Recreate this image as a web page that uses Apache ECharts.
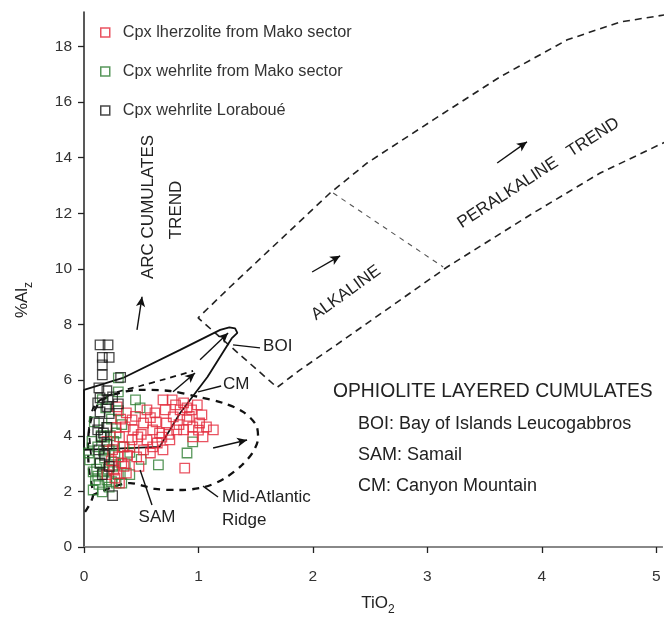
<!DOCTYPE html>
<html><head><meta charset="utf-8">
<script src="https://cdn.jsdelivr.net/npm/echarts@6/dist/echarts.min.js"></script>
<style>html,body{margin:0;padding:0;background:#fff}#c{width:665px;height:617px}</style>
</head><body><div id="c"></div>
<script>
// ---------- data ----------
const xTicks = [0, 1, 2, 3, 4, 5];
const yTicks = [0, 2, 4, 6, 8, 10, 12, 14, 16, 18];
const seriesNames = ['Cpx lherzolite from Mako sector', 'Cpx wehrlite from Mako sector', 'Cpx wehrlite Loraboué'];

const lherzoliteMako = [
  [0.88,2.84],[1.13,4.21],[1.04,3.96],[1.03,4.75],[0.99,5.11],[0.77,5.29],[0.87,5.18],[0.62,4.82],[0.64,3.74],[0.58,3.38],
  [0.43,4.21],[0.42,3.85],[0.52,4.46],[0.72,4.46],[0.81,4.21],[0.90,4.57],[0.95,4.32],[1.07,4.32],[0.71,4.93],[0.55,4.93],
  [0.37,4.82],[0.36,4.32],[0.34,3.60],[0.33,3.02],[0.37,2.66],[0.31,2.30],[0.47,3.96],[0.66,4.10],[0.78,4.68],[0.84,4.93],
  [0.94,4.93],[1.01,4.46],[0.52,3.49],[0.46,3.24],[0.60,4.21],[0.69,3.49],[0.75,3.85],[0.55,3.85],[0.87,4.21],[0.95,3.96],
  [0.42,4.57],[0.29,5.04],[0.31,3.96],[0.30,3.24],[0.26,2.77],[0.27,2.48],[0.69,5.29],[0.80,5.11],[0.25,3.50],[0.28,4.30],
  [0.22,2.90],[0.38,3.30],[0.45,4.70],[0.63,4.50],[0.50,4.05],[0.74,4.05],[0.92,4.70],[1.00,4.20],[0.58,4.65],[0.40,3.60],
  [0.35,2.90],[0.24,3.10],[0.32,4.60],[0.68,3.95],[0.83,4.40],[0.90,5.00],[0.60,3.60],[0.48,2.90],[0.20,3.80],[0.20,2.60]
];
const wehrliteMako = [
  [0.05,3.13],[0.04,3.38],[0.08,2.05],[0.16,1.98],[0.10,2.41],[0.11,2.80],[0.17,2.70],[0.20,2.41],[0.28,2.30],[0.30,2.60],
  [0.25,2.90],[0.12,3.60],[0.18,3.20],[0.22,3.50],[0.26,3.80],[0.15,4.00],[0.20,4.30],[0.28,4.10],[0.24,4.60],[0.30,4.90],
  [0.19,5.00],[0.30,5.58],[0.45,5.29],[0.30,6.08],[0.49,5.00],[0.65,2.95],[0.90,3.38],[0.95,3.78],[0.36,3.00],[0.40,2.60],
  [0.33,2.30],[0.07,3.80],[0.08,2.70],[0.13,2.25],[0.22,2.15],[0.27,3.30],[0.35,3.60],[0.23,4.00],[0.09,4.50],[0.16,5.30],
  [0.33,4.40],[0.40,3.40],[0.50,3.15],[0.14,3.00],[0.21,2.80],[0.18,3.95],[0.26,3.05],[0.12,2.55],[0.24,2.35],[0.17,3.45]
];
const wehrliteLoraboue = [
  [0.14,7.27],[0.21,7.27],[0.16,6.82],[0.22,6.82],[0.16,6.55],[0.16,6.19],[0.32,6.10],[0.13,5.72],[0.20,5.62],[0.14,5.36],
  [0.21,5.30],[0.12,5.18],[0.20,5.05],[0.14,4.86],[0.22,4.80],[0.13,4.46],[0.20,4.30],[0.12,4.21],[0.15,3.96],[0.20,3.70],
  [0.13,3.49],[0.18,3.30],[0.14,3.02],[0.22,2.90],[0.16,2.60],[0.25,1.85],[0.17,4.10],[0.25,5.40],[0.30,5.15]
];

// field boundaries (data coordinates)
const alkalineField = [
  [5.08,19.14],[4.685,18.88],[4.222,18.24],[3.636,16.91],[3.051,15.36],[2.474,13.81],[2.150,12.73],[1.713,11.04],[1.276,9.35],[0.997,8.24],
  [1.687,5.74],[1.888,6.37],[2.177,7.19],[2.762,8.88],[3.173,10.07],[3.925,12.01],[4.51,13.45],[5.08,14.57]
];
const alkalineDivider = [[2.177,12.73],[3.138,10.07]];
const boiField = [
  [0.0,3.49],[0.0,5.65],[0.34,6.08],[0.84,7.09],[1.19,7.81],[1.27,7.90],[1.32,7.86],[1.34,7.70],[1.29,7.50],[1.08,6.12],
  [0.84,4.82],[0.66,3.60],[0.0,3.49]
];
const marField = [
  [0.009,1.26],[0.079,1.87],[0.044,2.77],[0.035,3.67],[0.061,4.57],[0.14,5.22],[0.271,5.50],[0.49,5.65],[0.752,5.61],[0.997,5.40],
  [1.215,5.18],[1.39,4.86],[1.503,4.39],[1.521,3.92],[1.477,3.42],[1.381,2.95],[1.233,2.48],[1.058,2.16],[0.839,2.05],[0.621,2.09],
  [0.402,2.30],[0.227,2.12],[0.079,1.87]
];
const cmField = [[0.061,3.31],[0.044,4.28],[0.096,5.11],[0.245,5.50],[0.49,5.79],[0.708,6.04],[0.953,6.33]];
const trendArrows = [
  [[0.463,7.81],[0.507,9.00]],
  [[1.993,9.89],[2.238,10.47]],
  [[3.61,13.81],[3.87,14.57]],
  [[1.128,3.56],[1.425,3.85]],
  [[1.014,6.73],[1.259,7.70]],
  [[0.778,5.58],[0.970,6.26]]
];
const leaderLines = [
  [[1.302,7.27],[1.538,7.16]],
  [[0.997,5.58],[1.198,5.79]],
  [[0.49,2.77],[0.594,1.51]],
  [[1.04,2.19],[1.171,1.80]]
];
const fieldLabelTexts = ['BOI','CM','SAM','Mid-Atlantic','Ridge','ARC CUMULATES','TREND','ALKALINE','PERALKALINE   TREND'];
const keyTitle = 'OPHIOLITE LAYERED CUMULATES';
const keyLines = ['BOI: Bay of Islands Leucogabbros','SAM: Samail','CM: Canyon Mountain'];

// ---------- layout / style ----------
const FF = '"Liberation Sans", Arial, Helvetica, sans-serif';
const colors = ['#e3283a', '#2e7d32', '#1a1a1a'];
const labelLayout = [ // anchor (data coords), rotation deg, align
  {at:[1.565,7.23], rot:0, align:'left'},
  {at:[1.215,5.86], rot:0, align:'left'},
  {at:[0.638,1.08], rot:0, align:'center'},
  {at:[1.206,1.78], rot:0, align:'left'},
  {at:[1.206,0.97], rot:0, align:'left'},
  {at:[0.559,12.23], rot:90, align:'center'},
  {at:[0.804,12.12], rot:90, align:'center'},
  {at:[2.29,9.14], rot:36, align:'center'},
  {at:[3.97,13.45], rot:33, align:'center'}
];

const chart = echarts.init(document.getElementById('c'));
const lineSeries = (data, style, smooth) => ({
  type:'line', data, showSymbol:false, symbol:'none', smooth: smooth||false, silent:true, clip:true,
  lineStyle: style, z:1
});
const scatterSeries = (name, data, color) => ({
  type:'scatter', name, data, symbol:'rect', symbolSize:9.5, silent:true, z:3,
  itemStyle:{color:'rgba(0,0,0,0)', borderColor:color, borderWidth:1.3}
});

const option = {
  animation:false,
  backgroundColor:'#fff',
  grid:{left:84, right:3, top:12, bottom:70},
  xAxis:[{
    type:'value', min:0, max:5.05,
    axisLine:{show:true, onZero:false, lineStyle:{color:'#222', width:1.5}},
    axisTick:{show:true, length:6, customValues:xTicks, lineStyle:{color:'#222', width:1.3}},
    axisLabel:{customValues:xTicks, margin:22, fontSize:15.5, color:'#333', fontFamily:FF},
    splitLine:{show:false}
  },{
    type:'value', min:0, max:5.05, position:'top',
    axisLine:{show:true, lineStyle:{color:'#888', width:2}},
    axisTick:{show:false}, axisLabel:{show:false}, splitLine:{show:false}
  }],
  yAxis:{
    type:'value', min:0, max:19.24,
    axisLine:{show:true, lineStyle:{color:'#222', width:1.5}},
    axisTick:{show:true, length:6, customValues:yTicks, lineStyle:{color:'#222', width:1.3}},
    axisLabel:{customValues:yTicks, margin:12, fontSize:15.5, color:'#333', fontFamily:FF},
    splitLine:{show:false}
  },
  legend:{
    orient:'vertical', left:95, top:18, itemWidth:9, itemHeight:9, itemGap:20,
    textStyle:{fontSize:16.3, color:'#333', fontFamily:FF, padding:[0,0,0,8], lineHeight:19},
    data: seriesNames.map((n,i)=>({name:n, icon:'rect', itemStyle:{color:'rgba(0,0,0,0)', borderColor:colors[i], borderWidth:1.5}}))
  },
  series:[
    lineSeries(alkalineField, {color:'#222', width:1.6, type:[7,5]}),
    lineSeries(alkalineDivider, {color:'#555', width:1.1, type:[5,5]}),
    lineSeries(boiField, {color:'#111', width:1.8, type:'solid'}),
    lineSeries(marField, {color:'#111', width:2.3, type:[7,6]}, 0.3),
    lineSeries(cmField, {color:'#111', width:1.8, type:[6,5]}, 0.3),
    {
      type:'line', data:[], silent:true,
      markLine:{silent:true, symbol:['none','arrow'], symbolSize:[7,10], animation:false,
        lineStyle:{color:'#111', width:1.4, type:'solid'}, label:{show:false}, emphasis:{disabled:true},
        data: trendArrows.map(a=>[{coord:a[0]},{coord:a[1]}])}
    },
    {
      type:'line', data:[], silent:true,
      markLine:{silent:true, symbol:['none','none'], animation:false,
        lineStyle:{color:'#111', width:1.4, type:'solid'}, label:{show:false}, emphasis:{disabled:true},
        data: leaderLines.map(a=>[{coord:a[0]},{coord:a[1]}])}
    },
    scatterSeries(seriesNames[1], wehrliteMako, colors[1]),
    scatterSeries(seriesNames[0], lherzoliteMako, colors[0]),
    scatterSeries(seriesNames[2], wehrliteLoraboue, colors[2])
  ]
};
chart.setOption(option);

const px = p => chart.convertToPixel({gridIndex:0}, p);
const g = [];
fieldLabelTexts.forEach((t,i)=>{
  const L = labelLayout[i]; const p = px(L.at);
  g.push({type:'text', x:p[0], y:p[1], rotation:L.rot*Math.PI/180, silent:true, z:10,
    style:{text:t, fontSize:17, fill:'#222', fontFamily:FF, align:L.align, verticalAlign:'middle'}});
});
g.push({type:'text', x:333, y:392, silent:true, style:{text:keyTitle, fontSize:19.3, fill:'#222', fontFamily:FF, align:'left', verticalAlign:'middle'}});
keyLines.forEach((t,i)=>{
  g.push({type:'text', x:358, y:424+i*31, silent:true, style:{text:t, fontSize:18, fill:'#222', fontFamily:FF, align:'left', verticalAlign:'middle'}});
});
g.push({type:'text', x:22, y:300, rotation:Math.PI/2, silent:true, style:{
  text:'{a|%Al}{b|z}', align:'center', verticalAlign:'middle', fill:'#222', fontFamily:FF,
  rich:{a:{fontSize:17, fontFamily:FF, fill:'#222', lineHeight:26, verticalAlign:'middle'}, b:{fontSize:12, fontFamily:FF, fill:'#222', verticalAlign:'bottom', lineHeight:26}}}});
g.push({type:'text', x:378, y:603, silent:true, style:{
  text:'{a|TiO}{b|2}', align:'center', verticalAlign:'middle', fill:'#222', fontFamily:FF,
  rich:{a:{fontSize:17, fontFamily:FF, fill:'#222', lineHeight:26, verticalAlign:'middle'}, b:{fontSize:12, fontFamily:FF, fill:'#222', verticalAlign:'bottom', lineHeight:26}}}});
chart.setOption({graphic:g});
</script></body></html>
